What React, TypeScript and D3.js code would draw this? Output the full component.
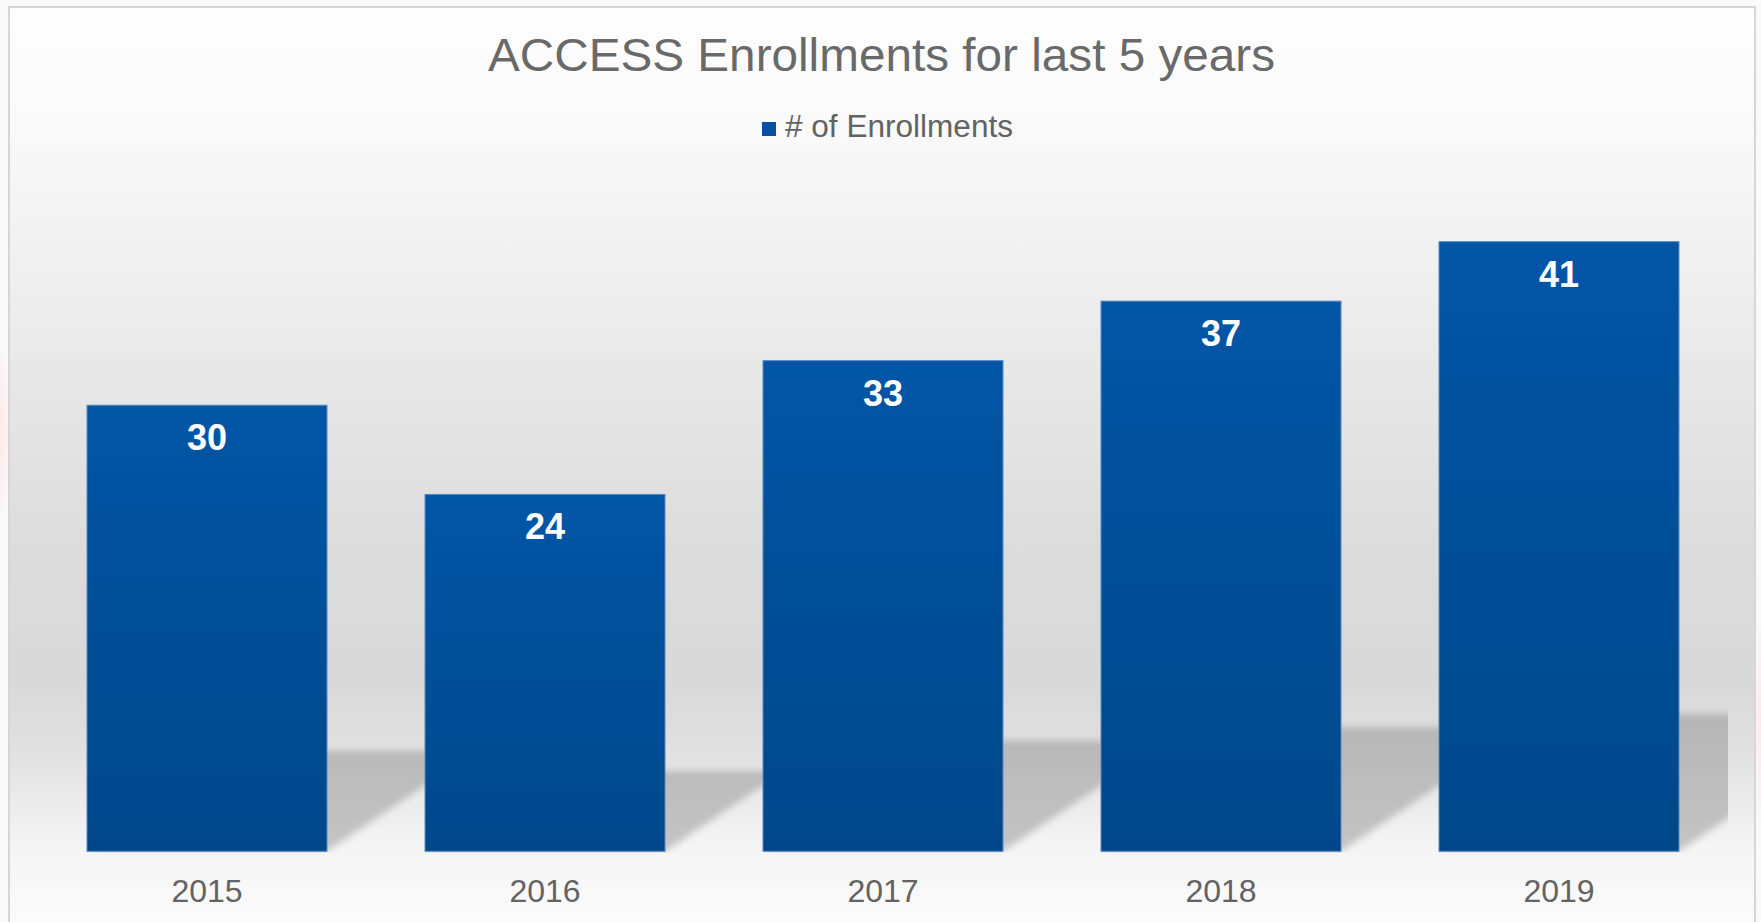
import React from "react";
import * as d3 from "d3";

const years = ["2015", "2016", "2017", "2018", "2019"];
const enrollments = [30, 24, 33, 37, 41];
const seriesName = "# of Enrollments";
const titleText = "ACCESS Enrollments for last 5 years";

const W = 1761;
const H = 922;

const bgStops: [number, string][] = [
  [8, "#fefefe"],
  [120, "#fafafa"],
  [250, "#f1f1f1"],
  [400, "#e6e6e6"],
  [550, "#dcdcdc"],
  [680, "#d9d9d9"],
  [740, "#dfdfdf"],
  [800, "#ebebeb"],
  [850, "#f5f5f5"],
  [922, "#fbfbfb"],
];

export default function App() {
  const x = d3
    .scaleBand<string>()
    .domain(years)
    .range([38, 1728])
    .paddingInner(0.29)
    .paddingOuter(0.145);
  const y = d3.scaleLinear().domain([0, 45]).range([851.3, 182.2]);
  const base = y(0);

  const shadowPath = (i: number) => {
    const x0 = x(years[i])!;
    const x1 = x0 + x.bandwidth();
    const h = base - y(enrollments[i]);
    const dy = 0.226 * h;
    const dx = dy / 0.67;
    const p = d3.path();
    p.moveTo(x0, base);
    p.lineTo(x1, base);
    p.lineTo(x1 + dx, base - dy);
    p.lineTo(x0 + dx, base - dy);
    p.closePath();
    return p.toString();
  };

  const font = "'Liberation Sans', Arial, sans-serif";

  return (
    <svg
      width={W}
      height={H}
      style={{ position: "absolute", left: 0, top: 0, display: "block" }}
      fontFamily={font}
    >
      <defs>
        <linearGradient id="bg" gradientUnits="userSpaceOnUse" x1="0" y1="8" x2="0" y2="922">
          {bgStops.map(([yy, c], i) => (
            <stop key={i} offset={(yy - 8) / 914} stopColor={c} />
          ))}
        </linearGradient>
        <linearGradient id="bar" x1="0" y1="0" x2="0" y2="1">
          <stop offset="0" stopColor="#0256a6" />
          <stop offset="1" stopColor="#00478a" />
        </linearGradient>
        <linearGradient id="shadowFill" gradientUnits="userSpaceOnUse" x1="0" y1="700" x2="0" y2="851">
          <stop offset="0" stopColor="#b4b4b4" />
          <stop offset="1" stopColor="#c4c4c4" />
        </linearGradient>
        <filter id="blur" x="-10%" y="-30%" width="120%" height="160%">
          <feGaussianBlur stdDeviation="3.5" />
        </filter>
        <clipPath id="plotClip">
          <rect x={38} y={150} width={1690} height={703} />
        </clipPath>
        <radialGradient id="pinkL" cx="0.5" cy="0.5" r="0.5">
          <stop offset="0" stopColor="#ffe6e6" stopOpacity="0.9" />
          <stop offset="1" stopColor="#ffe6e6" stopOpacity="0" />
        </radialGradient>
      </defs>

      <rect x={0} y={0} width={W} height={H} fill="#fafafa" />
      <ellipse cx={0} cy={432} rx={12} ry={100} fill="url(#pinkL)" />
      <ellipse cx={1761} cy={722} rx={8} ry={110} fill="url(#pinkL)" />

      <rect x={9} y={7} width={1746} height={930} fill="url(#bg)" stroke="#d6d6d6" strokeWidth={2} />

      <g clipPath="url(#plotClip)">
        <g filter="url(#blur)">
          {years.map((yr, i) => (
            <path key={yr} d={shadowPath(i)} fill="url(#shadowFill)" />
          ))}
        </g>
      </g>

      {years.map((yr, i) => (
        <rect
          key={yr}
          x={x(yr)}
          y={y(enrollments[i])}
          width={x.bandwidth()}
          height={base - y(enrollments[i])}
          fill="url(#bar)"
          stroke="#5a88c2"
          strokeWidth={1}
        />
      ))}

      {years.map((yr, i) => (
        <text
          key={"l" + yr}
          x={x(yr)! + x.bandwidth() / 2}
          y={y(enrollments[i]) + 45}
          textAnchor="middle"
          fill="#ffffff"
          fontWeight="bold"
          fontSize={36}
        >
          {enrollments[i]}
        </text>
      ))}

      {years.map((yr) => (
        <text
          key={"a" + yr}
          x={x(yr)! + x.bandwidth() / 2}
          y={902}
          textAnchor="middle"
          fill="#636363"
          fontSize={32}
        >
          {yr}
        </text>
      ))}

      <text
        x={488}
        y={71}
        fill="#696969"
        fontSize={46}
        textLength={787}
        lengthAdjust="spacingAndGlyphs"
      >
        {titleText}
      </text>

      <rect x={762} y={122} width={14} height={14} fill="#0a4fa0" />
      <text
        x={785}
        y={137}
        fill="#636363"
        fontSize={31}
        textLength={228}
        lengthAdjust="spacingAndGlyphs"
      >
        {seriesName}
      </text>
    </svg>
  );
}
